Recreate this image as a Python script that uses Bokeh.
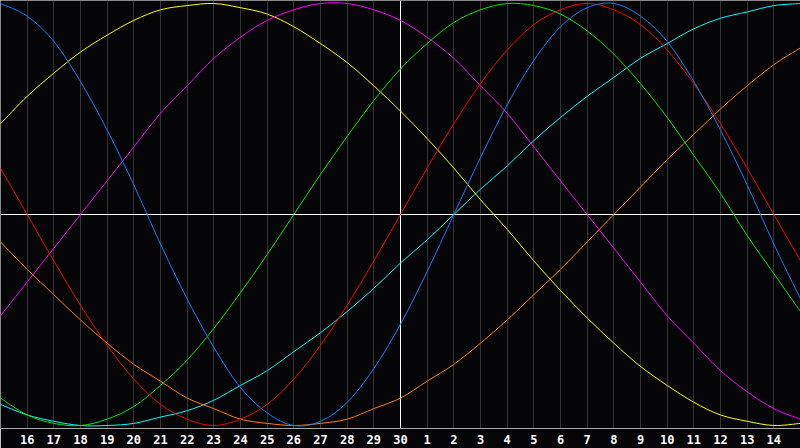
from bokeh.plotting import figure
from bokeh.models import FixedTicker, Span
from bokeh.embed import file_html
from bokeh.resources import INLINE

# day offsets across the 30-day window (0 = the 15th, 15 = the 30th)
days = [0, 1, 2, 3, 4, 5, 6, 7, 8, 9, 10, 11, 12, 13, 14, 15,
        16, 17, 18, 19, 20, 21, 22, 23, 24, 25, 26, 27, 28, 29, 30]

tick_days = [1, 2, 3, 4, 5, 6, 7, 8, 9, 10, 11, 12, 13, 14, 15,
             16, 17, 18, 19, 20, 21, 22, 23, 24, 25, 26, 27, 28, 29]
tick_labels = ["16", "17", "18", "19", "20", "21", "22", "23", "24", "25",
               "26", "27", "28", "29", "30", "1", "2", "3", "4", "5",
               "6", "7", "8", "9", "10", "11", "12", "13", "14"]

# cycle values read at each day
physical = [1.00, 0.94, 0.82, 0.63, 0.40, 0.14, -0.14, -0.40, -0.63, -0.82,
            -0.94, -1.00, -0.98, -0.89, -0.73, -0.52, -0.27, 0.00, 0.27, 0.52,
            0.73, 0.89, 0.98, 1.00, 0.94, 0.82, 0.63, 0.40, 0.14, -0.14, -0.40]
emotional = [0.22, 0.00, -0.22, -0.43, -0.62, -0.78, -0.90, -0.97, -1.00, -0.97,
             -0.90, -0.78, -0.62, -0.43, -0.22, 0.00, 0.22, 0.43, 0.62, 0.78,
             0.90, 0.97, 1.00, 0.97, 0.90, 0.78, 0.62, 0.43, 0.22, 0.00, -0.22]
intellectual = [-0.87, -0.95, -0.99, -1.00, -0.97, -0.91, -0.81, -0.69, -0.54, -0.37,
                -0.19, 0.00, 0.19, 0.37, 0.54, 0.69, 0.81, 0.91, 0.97, 1.00,
                0.99, 0.95, 0.87, 0.76, 0.62, 0.46, 0.28, 0.10, -0.10, -0.28, -0.46]
intuitive = [-0.48, -0.32, -0.16, 0.00, 0.16, 0.32, 0.48, 0.61, 0.74, 0.84,
             0.92, 0.97, 1.00, 1.00, 0.97, 0.92, 0.84, 0.74, 0.61, 0.48,
             0.32, 0.16, 0.00, -0.16, -0.32, -0.48, -0.61, -0.74, -0.84, -0.92, -0.97]
aesthetic = [0.43, 0.56, 0.67, 0.77, 0.85, 0.92, 0.97, 0.99, 1.00, 0.98,
             0.95, 0.89, 0.81, 0.72, 0.61, 0.49, 0.36, 0.22, 0.07, -0.07,
             -0.22, -0.36, -0.49, -0.61, -0.72, -0.81, -0.89, -0.95, -0.98, -1.00, -0.99]
awareness = [-0.13, -0.26, -0.38, -0.50, -0.61, -0.71, -0.79, -0.87, -0.92, -0.97,
             -0.99, -1.00, -0.99, -0.97, -0.92, -0.87, -0.79, -0.71, -0.61, -0.50,
             -0.38, -0.26, -0.13, 0.00, 0.13, 0.26, 0.38, 0.50, 0.61, 0.71, 0.79]
spiritual = [-0.90, -0.95, -0.98, -1.00, -1.00, -0.99, -0.96, -0.93, -0.88, -0.81,
             -0.74, -0.65, -0.56, -0.46, -0.35, -0.23, -0.12, 0.00, 0.12, 0.23,
             0.35, 0.46, 0.56, 0.65, 0.74, 0.81, 0.88, 0.93, 0.96, 0.99, 1.00]

series = [
    (spiritual, "#00ffff"),
    (awareness, "#ff8000"),
    (aesthetic, "#ffff00"),
    (intuitive, "#ff00ff"),
    (intellectual, "#00e800"),
    (emotional, "#ff0000"),
    (physical, "#0a80ff"),
]

BG = "#050508"
YLIM = 1.0142

p = figure(width=800, height=448, x_range=(0, 30), y_range=(-YLIM, YLIM),
           output_backend="svg", toolbar_location=None, y_axis_location=None,
           min_border_left=0, min_border_right=0, min_border_top=0,
           min_border_bottom=20, background_fill_color=BG,
           border_fill_color=BG, outline_line_color=None,
           styles={"position": "absolute", "left": "0px", "top": "0px"})

for g in p.ygrid:
    g.visible = False

ticker = FixedTicker(ticks=tick_days)
p.xgrid.ticker = ticker
p.xgrid.grid_line_color = "#343434"
p.xgrid.grid_line_width = 1

ax = p.xaxis[0]
ax.ticker = ticker
ax.major_label_overrides = {d: lab for d, lab in zip(tick_days, tick_labels)}
ax.axis_line_color = "#a8a8a8"
ax.axis_line_width = 1
ax.major_tick_line_color = None
ax.minor_tick_line_color = None
ax.major_tick_out = 0
ax.major_tick_in = 0
ax.major_label_standoff = 6
ax.major_label_text_color = "white"
ax.major_label_text_font = "DejaVu Sans Mono"
ax.major_label_text_font_style = "bold"
ax.major_label_text_font_size = "12px"

p.add_layout(Span(location=0, dimension="height", line_color="#909090",
                  line_width=1, level="underlay"))
p.add_layout(Span(location=YLIM, dimension="width", line_color="#909090",
                  line_width=1, level="underlay"))
p.add_layout(Span(location=15, dimension="height", line_color="white",
                  line_width=1, level="underlay"))
p.add_layout(Span(location=0, dimension="width", line_color="white",
                  line_width=1, level="underlay"))


def smooth_segments(xs, ys):
    """Catmull-Rom control points so the line passes smoothly through each reading."""
    n = len(xs)
    x0, y0, x1, y1, cx0, cy0, cx1, cy1 = [], [], [], [], [], [], [], []
    for i in range(n - 1):
        im, ip2 = max(i - 1, 0), min(i + 2, n - 1)
        x0.append(xs[i]); y0.append(ys[i])
        x1.append(xs[i + 1]); y1.append(ys[i + 1])
        cx0.append(xs[i] + (xs[i + 1] - xs[im]) / 6.0)
        cy0.append(ys[i] + (ys[i + 1] - ys[im]) / 6.0)
        cx1.append(xs[i + 1] - (xs[ip2] - xs[i]) / 6.0)
        cy1.append(ys[i + 1] - (ys[ip2] - ys[i]) / 6.0)
    return dict(x0=x0, y0=y0, x1=x1, y1=y1, cx0=cx0, cy0=cy0, cx1=cx1, cy1=cy1)


for vals, col in series:
    seg = smooth_segments(days, vals)
    p.bezier(x0="x0", y0="y0", x1="x1", y1="y1", cx0="cx0", cy0="cy0",
             cx1="cx1", cy1="cy1", source=seg, line_color=col, line_width=1)

open("out.html", "w").write(file_html(p, INLINE))
